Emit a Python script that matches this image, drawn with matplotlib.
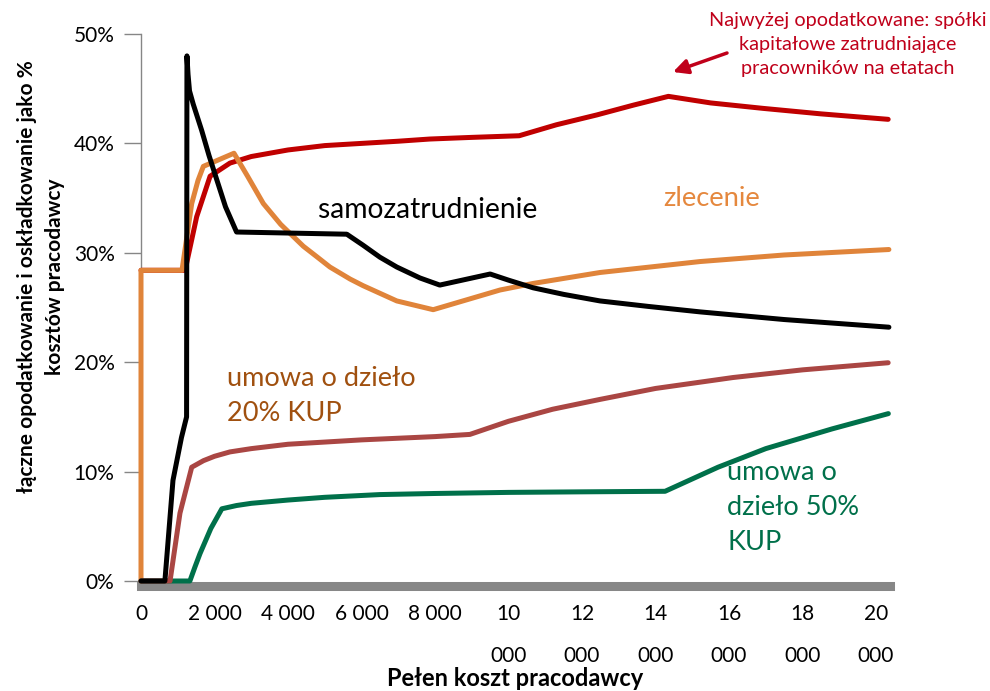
import matplotlib
matplotlib.use('Agg')
import matplotlib.pyplot as plt

plt.rcParams['font.family'] = ['Lato', 'DejaVu Sans']

# łączne opodatkowanie (%) vs pełen koszt pracodawcy (zł)
etat_x = [0, 1200, 1515, 1880, 2420, 3000, 4000, 5000, 6000, 7000, 7860, 9000,
          10290, 11300, 12400, 13400, 14350, 15500, 16930, 18500, 20330]
etat_y = [28.4, 28.4, 33.3, 37.0, 38.2, 38.8, 39.4, 39.8, 40.0, 40.2, 40.4,
          40.55, 40.7, 41.7, 42.6, 43.5, 44.3, 43.7, 43.2, 42.7, 42.2]

samo_x = [0, 650, 870, 1100, 1240, 1250, 1280, 1320, 1420, 1650, 1850, 2060,
          2300, 2600, 5600, 6040, 6500, 6960, 7590, 8130, 9500, 10000, 10670,
          11500, 12490, 13800, 15210, 17500, 20350]
samo_y = [0, 0, 9.2, 13.1, 15.0, 48.0, 46.3, 44.8, 43.6, 41.2, 38.9, 36.7,
          34.2, 31.9, 31.7, 30.7, 29.6, 28.7, 27.7, 27.05, 28.06, 27.5, 26.8,
          26.2, 25.6, 25.1, 24.6, 23.9, 23.2]

zlec_x = [0, 0, 1115, 1250, 1380, 1550, 1696, 2530, 2900, 3329, 3800, 4417,
          4800, 5140, 5690, 6040, 6960, 7950, 9770, 10670, 12490, 15210, 17500,
          20350]
zlec_y = [0, 28.4, 28.4, 31.5, 34.5, 36.6, 37.9, 39.1, 37.0, 34.5, 32.6, 30.6,
          29.6, 28.7, 27.6, 27.0, 25.6, 24.8, 26.6, 27.2, 28.2, 29.2, 29.8,
          30.3]

dz20_x = [0, 790, 1060, 1380, 1700, 2000, 2420, 3000, 4000, 5000, 6000, 8000,
          8950, 10000, 11200, 12490, 14000, 16110, 18000, 20330]
dz20_y = [0, 0, 6.2, 10.4, 11.0, 11.4, 11.8, 12.1, 12.5, 12.7, 12.9, 13.2,
          13.4, 14.6, 15.7, 16.6, 17.6, 18.6, 19.3, 19.95]

dz50_x = [0, 1330, 1470, 1605, 1900, 2200, 2600, 3000, 4000, 5000, 6500, 8000,
          10000, 12000, 14260, 15700, 17000, 18800, 20335]
dz50_y = [0, 0, 1.3, 2.5, 4.8, 6.6, 6.9, 7.1, 7.4, 7.65, 7.9, 8.0,
          8.1, 8.15, 8.2, 10.4, 12.1, 13.9, 15.3]

x_ticks = [0, 2000, 4000, 6000, 8000, 10000, 12000, 14000, 16000, 18000, 20000]
x_labels = ['0', '2 000', '4 000', '6 000', '8 000', '10\n000', '12\n000',
            '14\n000', '16\n000', '18\n000', '20\n000']
y_ticks = [0, 10, 20, 30, 40, 50]
y_labels = ['0%', '10%', '20%', '30%', '40%', '50%']

fig = plt.figure(figsize=(9.9, 6.91), dpi=100)
ax = fig.add_axes([141 / 990, 1 - 581 / 691, 749 / 990, 547 / 691])

style = dict(lw=3.6, clip_on=False, solid_joinstyle='round',
             solid_capstyle='round')
ax.plot(etat_x, etat_y, color='#C00000', zorder=3, **style)
ax.plot(zlec_x, zlec_y, color='#E0843A', zorder=3, **style)
ax.plot(dz50_x, dz50_y, color='#00704A', zorder=4, **style)
ax.plot(dz20_x, dz20_y, color='#AA4643', zorder=4, **style)
ax.plot(samo_x, samo_y, color='black', zorder=5, **style)

ax.set_xlim(0, 20380)
ax.set_ylim(0, 50)

for s in ['top', 'right']:
    ax.spines[s].set_visible(False)
ax.spines['left'].set_color('#868686')
ax.spines['left'].set_linewidth(1)
ax.spines['bottom'].set_color('#878787')
ax.spines['bottom'].set_linewidth(6.5)
ax.spines['bottom'].set_position(('outward', 3.5))
ax.spines['bottom'].set_zorder(2)

ax.set_yticks(y_ticks, y_labels)
ax.set_xticks(x_ticks, x_labels)
ax.tick_params(axis='y', direction='out', length=12, width=1, color='#868686',
               labelsize=15, pad=7)
ax.tick_params(axis='x', length=0, labelsize=15, pad=13)
for lbl in ax.get_xticklabels():
    lbl.set_linespacing(2.35)

fig.text(41 / 990, 1 - 277 / 691,
         'łączne opodatkowanie i oskładkowanie jako %\nkosztów pracodawcy',
         rotation=90, ha='center', va='center', multialignment='center',
         fontsize=15, fontweight='bold', linespacing=1.45)
fig.text(515 / 990, 1 - 678 / 691, 'Pełen koszt pracodawcy', ha='center',
         va='center', fontsize=17, fontweight='bold')

ax.text(4816, 33.9, 'samozatrudnienie', fontsize=20.3, color='black',
        va='center')
ax.text(14204, 35.0, 'zlecenie', fontsize=19.7, color='#E5883E', va='center')
ax.text(2340, 16.9, 'umowa o dzieło\n20% KUP', fontsize=19.5,
        color='#A0500F', va='center', linespacing=1.5)
ax.text(15946, 6.72, 'umowa o\ndzieło 50%\nKUP', fontsize=19.5,
        color='#00704A', va='center', linespacing=1.52)

fig.text(848 / 990, 1 - 44.5 / 691,
         'Najwyżej opodatkowane: spółki\nkapitałowe zatrudniające\npracowników na etatach',
         ha='center', va='center', fontsize=14.3, color='#C0001A',
         linespacing=1.53)
ax.annotate('', xy=(673 / 990, 1 - 72 / 691), xytext=(727 / 990, 1 - 53 / 691),
            xycoords='figure fraction', textcoords='figure fraction',
            arrowprops=dict(arrowstyle='-|>', color='#C0001A', lw=2.5,
                            mutation_scale=22, shrinkA=0, shrinkB=0))

fig.savefig('out.png', dpi=100)
